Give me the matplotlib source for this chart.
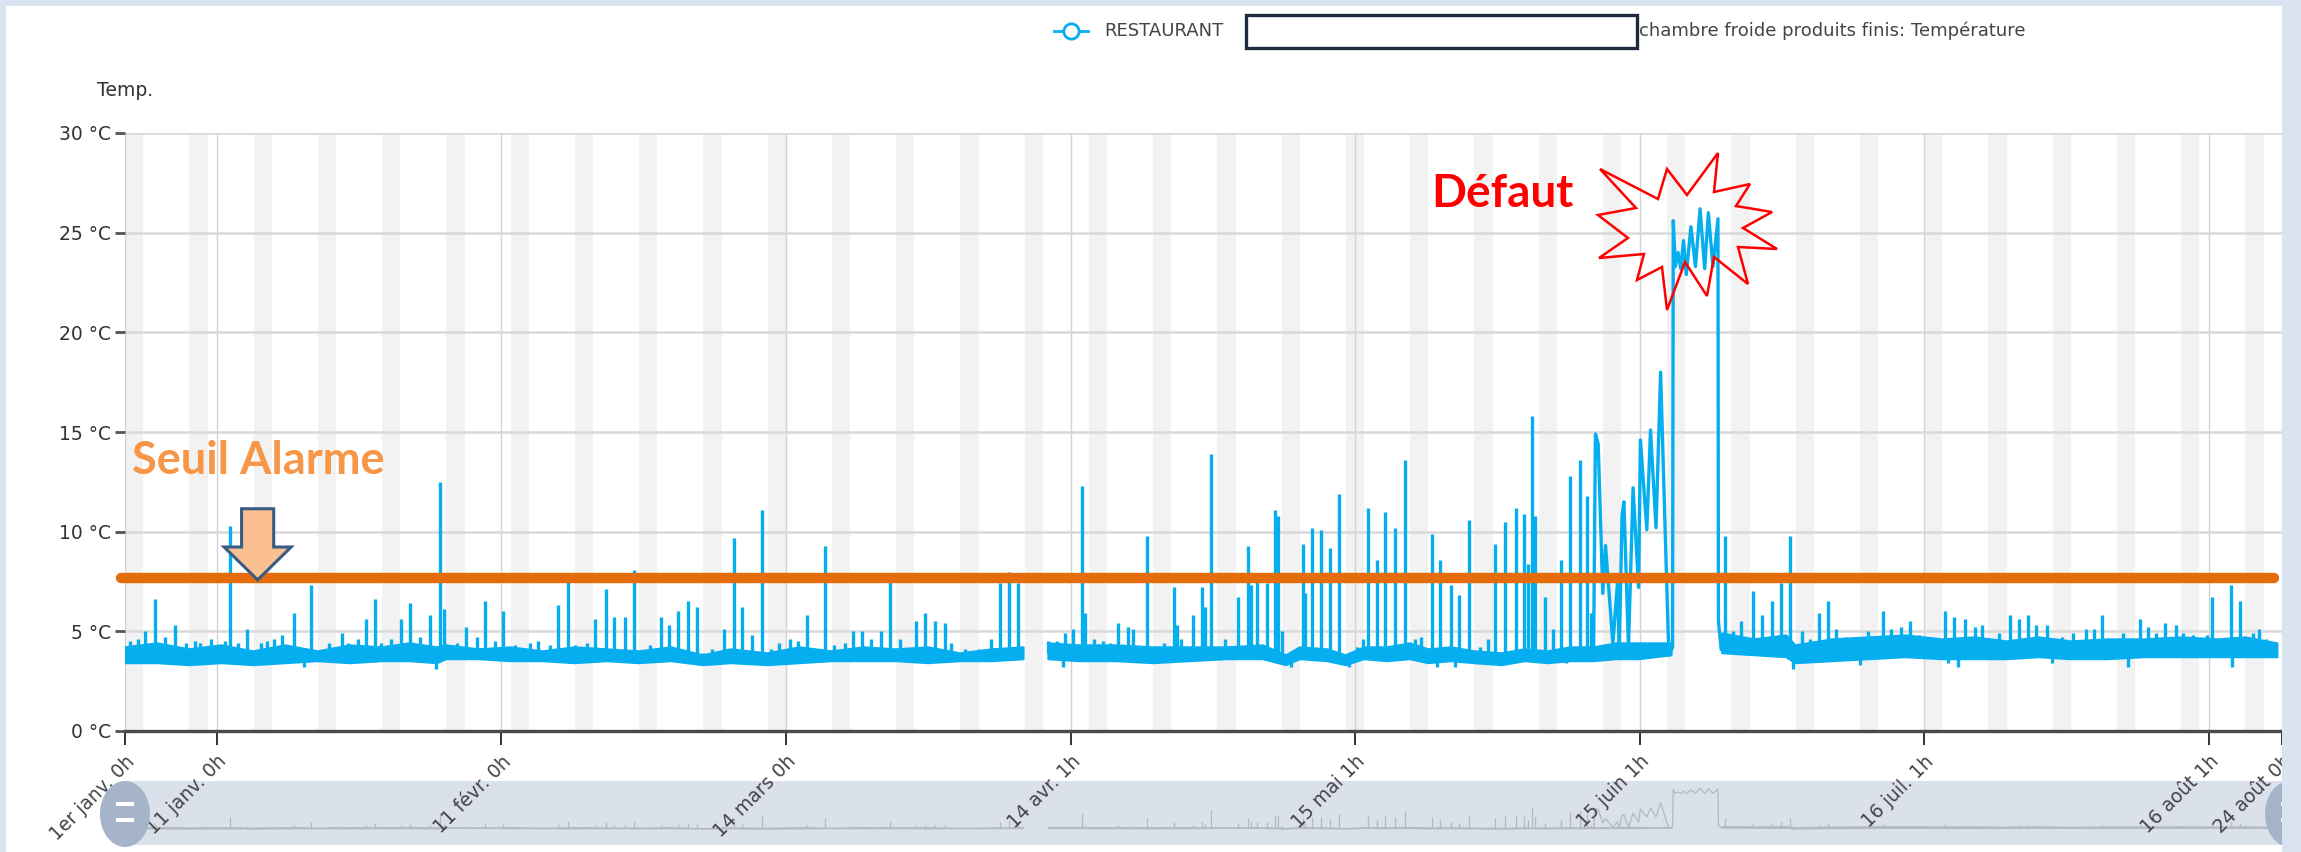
"""
Courbe de température chambre froide, avec seuil d'alarme et défaut
"""

import matplotlib.pyplot as plt
import numpy as np
import pandas as pd
from matplotlib.lines import Line2D
from matplotlib.patches import Ellipse, FancyArrow, Polygon, Rectangle
from matplotlib.transforms import Affine2D

plt.rcParams['font.family'] = ['DejaVu Sans']

W, H = 2301, 852
BLUE = '#05aeef'
START = pd.Timestamp('2022-01-01')
END = pd.Timestamp('2022-08-24')

# x ticks (local time labels as shown by the chart)
tick_times = ['2022-01-01 00:00', '2022-01-11 00:00', '2022-02-11 00:00', '2022-03-14 00:00',
              '2022-04-14 01:00', '2022-05-15 01:00', '2022-06-15 01:00', '2022-07-16 01:00',
              '2022-08-16 01:00', '2022-08-24 00:00']
tick_labels = ['1er janv. 0h', '11 janv. 0h', '11 févr. 0h', '14 mars 0h', '14 avr. 1h',
               '15 mai 1h', '15 juin 1h', '16 juil. 1h', '16 août 1h', '24 août 0h']

# alarm threshold (°C)
SEUIL = 7.7
# foot of the spikes, inside the everyday noise band
SPIKE_FOOT = 3.9

# everyday noise band: day, low edge, high edge (nan = no data / défaut)
nan = np.nan
band_day = [0, 3.5, 7, 10.5, 14, 17.5, 21, 24.5, 28, 31, 34, 35, 38.5, 42, 45.5, 49, 52.5, 56, 59.5,
            63, 66, 70, 73.5, 77, 80.5, 84, 87.5, 91, 94.5, 97.9, 98.0, 100.5, 100.6,
            104, 108, 112, 116, 120, 124, 126.5, 128, 131, 133, 135, 137.5, 140, 142, 144.5, 147,
            150, 152.5, 155, 157.5, 160, 162.5, 165, 168.5, 168.6, 173.8, 174, 177.5, 181, 182,
            186, 190, 194, 198, 201.5, 205, 208.5, 212, 216, 220, 224, 228, 231, 234.5]
band_lo = [3.4, 3.4, 3.3, 3.4, 3.3, 3.4, 3.5, 3.4, 3.5, 3.5, 3.4, 3.6, 3.6, 3.5, 3.5, 3.4, 3.5, 3.4, 3.5,
           3.3, 3.4, 3.3, 3.4, 3.5, 3.5, 3.5, 3.4, 3.5, 3.5, 3.6, nan, nan, 3.6,
           3.5, 3.5, 3.4, 3.5, 3.6, 3.6, 3.3, 3.6, 3.5, 3.3, 3.6, 3.5, 3.6, 3.4, 3.5, 3.4,
           3.3, 3.5, 3.4, 3.5, 3.5, 3.6, 3.6, 3.8, nan, nan, 3.9, 3.8, 3.7, 3.4,
           3.5, 3.6, 3.7, 3.6, 3.6, 3.6, 3.7, 3.6, 3.6, 3.7, 3.7, 3.7, 3.7, 3.7]
band_hi = [4.2, 4.4, 4.1, 4.3, 4.0, 4.3, 4.0, 4.3, 4.2, 4.4, 4.2, 4.3, 4.1, 4.2, 4.0, 4.2, 4.1, 4.0, 4.2,
           3.8, 4.1, 3.9, 4.2, 4.0, 4.2, 4.1, 4.2, 3.9, 4.1, 4.2, nan, nan, 4.4,
           4.3, 4.3, 4.2, 4.2, 4.2, 4.3, 3.8, 4.2, 4.1, 3.8, 4.2, 4.2, 4.4, 4.1, 4.2, 4.0,
           3.9, 4.1, 4.0, 4.2, 4.2, 4.4, 4.4, 4.4, nan, nan, 4.9, 4.6, 4.8, 4.3,
           4.6, 4.7, 4.8, 4.6, 4.7, 4.5, 4.7, 4.5, 4.6, 4.6, 4.7, 4.6, 4.7, 4.4]

# spikes (and dips) out of the band: (day, °C)
spikes_jan = [(0.5, 4.5), (1.4, 4.6), (2.2, 5.0), (3.3, 6.6), (4.4, 4.7), (5.5, 5.3), (6.7, 4.4),
              (7.6, 4.5), (8.2, 4.4), (9.4, 4.6), (10.9, 4.5), (11.4, 10.3), (12.3, 4.4), (13.3, 5.1),
              (14.8, 4.4), (15.5, 4.5), (16.2, 4.6), (17.1, 4.8), (18.4, 5.9), (19.5, 3.2), (20.3, 7.3),
              (22.2, 4.4), (23.6, 4.9), (24.3, 4.4), (25.4, 4.6), (26.3, 5.6), (27.2, 6.6), (27.9, 4.4),
              (29.0, 4.6), (30.1, 5.6)]
spikes_feb = [(31.1, 6.4), (32.1, 4.7), (33.2, 5.8), (33.9, 3.1), (34.3, 12.5), (34.7, 6.1), (36.2, 4.4),
              (37.2, 5.2), (38.3, 4.7), (39.2, 6.5), (40.3, 4.5), (41.2, 6.0), (42.5, 4.3), (44.1, 4.4),
              (45.0, 4.5), (46.3, 4.3), (47.2, 6.3), (48.3, 7.7), (49.0, 4.3), (50.3, 4.4), (51.2, 5.6),
              (52.4, 7.1), (53.3, 5.7), (54.5, 5.7), (55.4, 8.1), (57.2, 4.3), (58.4, 5.7)]
spikes_mar = [(59.3, 5.3), (60.3, 6.0), (61.3, 6.5), (62.3, 6.2), (63.0, 3.3), (63.9, 4.1), (65.3, 5.1),
              (66.4, 9.7), (67.2, 6.2), (68.3, 4.8), (69.4, 11.1), (70.4, 4.1), (71.2, 4.4), (72.4, 4.6),
              (73.3, 4.5), (74.3, 5.8), (75.1, 4.1), (76.3, 9.3), (77.2, 4.3), (78.4, 4.4), (79.3, 5.0),
              (80.3, 5.0), (81.3, 4.6), (82.4, 5.0), (83.3, 7.7), (84.4, 4.6), (86.2, 5.5), (87.2, 5.9),
              (88.2, 5.5), (89.3, 5.4)]
spikes_apr = [(90.0, 4.4), (91.5, 4.1), (93.0, 4.1), (94.4, 4.6), (95.3, 7.4), (96.3, 8.0), (97.3, 7.4),
              (100.6, 4.5), (101.5, 4.5), (102.2, 3.2), (102.4, 4.9), (103.3, 5.1), (104.3, 12.3),
              (104.6, 5.9), (105.6, 4.6), (106.6, 4.5), (107.3, 4.4), (108.2, 5.4), (109.3, 5.2),
              (109.8, 5.1), (111.3, 9.8), (112.0, 4.2), (113.2, 4.4), (114.3, 7.2), (114.6, 5.3),
              (115.1, 4.6), (116.4, 5.8), (117.3, 7.2), (117.7, 6.2), (118.3, 13.9), (119.8, 4.6)]
spikes_may = [(121.3, 6.7), (122.3, 9.3), (122.7, 7.3), (123.3, 7.6), (124.4, 7.4), (125.3, 11.1),
              (125.6, 10.8), (126.0, 5.0), (127.0, 3.2), (128.3, 9.4), (128.6, 6.9), (129.3, 10.2),
              (130.3, 10.1), (131.3, 9.2), (132.3, 11.9), (133.3, 3.2), (134.2, 4.2), (134.9, 4.6),
              (135.4, 11.2), (136.4, 8.6), (137.3, 11.0), (138.4, 10.2), (139.4, 13.6), (140.5, 4.6),
              (141.2, 4.7), (142.4, 9.9), (142.9, 3.2), (143.3, 8.6), (144.5, 7.3), (144.9, 3.2),
              (145.3, 6.8), (146.4, 10.6), (147.6, 4.2), (148.5, 4.6), (149.3, 9.4), (150.3, 10.5)]
spikes_jun = [(151.5, 11.2), (152.4, 10.9), (152.9, 8.4), (153.3, 15.8), (153.6, 10.8), (154.2, 3.6),
              (154.7, 6.7), (155.6, 5.1), (156.5, 8.6), (157.0, 3.4), (157.4, 12.8), (158.5, 13.6),
              (159.3, 11.8), (159.7, 5.9)]
spikes_jul = [(174.3, 9.8), (175.2, 5.0), (176.1, 5.5), (177.4, 7.0), (178.4, 5.8), (179.4, 6.5),
              (180.4, 7.4), (181.4, 9.8), (181.7, 3.1), (182.7, 5.0), (183.6, 4.6), (184.6, 5.9),
              (185.5, 6.5), (186.4, 5.1), (187.5, 4.7), (189.0, 3.3), (189.9, 5.0), (191.5, 6.0),
              (192.4, 5.1), (193.5, 5.2), (194.5, 5.5), (195.5, 4.8), (196.4, 4.6), (198.3, 6.0),
              (198.6, 3.4), (199.3, 5.7), (199.7, 3.2), (200.5, 5.6), (201.5, 5.2), (202.3, 5.3),
              (204.2, 4.9), (205.4, 5.8), (206.4, 5.6), (207.3, 5.8), (208.2, 5.3), (209.4, 5.3),
              (209.9, 3.4), (211.0, 4.7)]
spikes_aug = [(212.2, 4.9), (213.7, 5.1), (214.5, 5.1), (215.4, 5.8), (216.8, 4.6), (217.7, 4.9),
              (218.2, 3.2), (219.5, 5.6), (220.4, 5.2), (221.3, 4.9), (222.2, 5.4), (223.5, 5.3),
              (224.2, 4.9), (225.3, 4.8), (226.8, 4.8), (227.4, 6.7), (229.4, 7.3), (229.6, 3.2),
              (230.4, 6.5), (231.8, 4.9), (232.5, 5.1), (233.3, 4.6)]

# mid-June: unstable period then the défaut itself, read point by point
episode_day = [160.0, 160.2, 160.5, 161.0, 161.3, 162.1, 162.6, 162.8, 163.1, 163.3, 163.8, 164.3,
               164.9, 165.1, 165.8, 166.2, 166.8, 167.3, 167.9, 168.2, 168.6, 168.68, 168.9, 169.2,
               169.5, 169.8, 170.1, 170.6, 171.1, 171.6, 172.1, 172.5, 173.0, 173.55, 173.6, 173.9]
episode_temp = [4.0, 14.9, 14.4, 6.9, 9.3, 4.4, 7.4, 4.0, 10.8, 11.5, 4.2, 12.2,
                7.2, 14.6, 10.1, 15.1, 10.2, 18.0, 8.4, 3.8, 4.2, 25.6, 23.3, 24.0,
                23.2, 24.6, 22.9, 25.3, 23.3, 26.2, 23.2, 26.0, 23.3, 25.7, 5.5, 4.1]

spikes = spikes_jan + spikes_feb + spikes_mar + spikes_apr + spikes_may + spikes_jun + spikes_jul + spikes_aug
spike_day = [d for d, _ in spikes]
spike_temp = [t for _, t in spikes]


def days(ts):
    return (pd.Timestamp(ts) - START) / pd.Timedelta(days=1)


def draw_series(ax, color, lw):
    ax.fill_between(band_day, band_lo, band_hi, color=color, lw=lw * 0.6, edgecolor=color, zorder=3)
    ax.vlines(spike_day, SPIKE_FOOT, spike_temp, color=color, lw=lw, zorder=3)
    ax.plot(episode_day, episode_temp, color=color, lw=lw, zorder=3)


fig = plt.figure(figsize=(W / 100, H / 100), dpi=100)
# helper transform: picture pixels (origin top-left) -> figure
pix = Affine2D().scale(1 / W, -1 / H).translate(0, 1) + fig.transFigure

x_end = days(END)
ax = fig.add_axes([125 / W, 1 - 731 / H, 2157 / W, 598 / H])
ax.set_zorder(3)
ax.set_xlim(0, x_end)
ax.set_ylim(0, 30)

# weekend bands
for sat in pd.date_range(START, END, freq='W-SAT'):
    d = days(sat)
    ax.axvspan(d, min(d + 2, x_end), color='#f2f2f2', lw=0, zorder=0)

ax.set_axisbelow(True)
ax.set_yticks(range(0, 31, 5))
ax.set_yticklabels([f'{v} °C' for v in range(0, 31, 5)])
ax.yaxis.grid(True, color='#d9d9d9', lw=1.8)
ax.set_xticks([days(t) for t in tick_times])
ax.set_xticklabels(tick_labels, rotation=45, ha='right', rotation_mode='anchor')
ax.xaxis.grid(True, color='#d2d2d2', lw=1.0)
ax.tick_params(axis='y', length=7, width=2, color='#555555', pad=3, labelsize=13.5, labelcolor='#333333')
ax.tick_params(axis='x', length=10, width=1.4, color='#333333', pad=5, labelsize=13.5, labelcolor='#444444')
for side in ['top', 'right', 'left']:
    ax.spines[side].set_visible(False)
ax.spines['bottom'].set_color('#4a4a4a')
ax.spines['bottom'].set_linewidth(2.4)

draw_series(ax, BLUE, 2.4)

# annotations laid over the chart
ax.plot([-0.45, 234.1], [SEUIL, SEUIL], color='#e46c0a', lw=7.5, solid_capstyle='round',
        clip_on=False, zorder=6)
ax.add_patch(FancyArrow(14.45, 11.15, 0, -3.57, width=3.5, head_width=7.3, head_length=1.65,
                        length_includes_head=True, fc='#fac08f', ec='#3a5a86', lw=2.2,
                        zorder=7, clip_on=False))
ax.text(0.76, 12.9, 'Seuil Alarme', family='Lato', fontsize=32.5, fontweight='bold',
        color='#f79646', va='baseline', zorder=8)
ax.text(157.8, 26.3, 'Défaut', family='Lato', fontsize=33, fontweight='bold',
        color='#ff0000', ha='right', va='baseline', zorder=8)

star = [(1600, 169), (1658, 199), (1667, 169), (1687, 195), (1718, 153), (1714, 192), (1750, 184),
        (1736, 206), (1772, 212), (1743, 228), (1777, 249), (1738, 247), (1748, 284), (1714, 257),
        (1707, 296), (1685, 262), (1667, 310), (1662, 267), (1637, 280), (1644, 254), (1599, 258),
        (1628, 238), (1598, 215), (1636, 208)]
fig.add_artist(Polygon(star, closed=True, fill=False, ec='#ff0000', lw=1.8, transform=pix, zorder=10))

fig.text(97, 90, 'Temp.', transform=pix, fontsize=13.5, color='#333333', va='center')

# legend
fig.add_artist(Line2D([1054, 1088], [31, 31], color=BLUE, lw=2, transform=pix))
fig.add_artist(Line2D([1071], [31], marker='o', ms=11, mfc='white', mec=BLUE, mew=2, transform=pix))
fig.text(1104, 31, 'RESTAURANT', transform=pix, fontsize=13, color='#444444', va='center')
fig.add_artist(Rectangle((1246, 15), 391, 33, fc='white', ec='#1e2b3c', lw=2.4, transform=pix))
fig.text(1639, 31, 'chambre froide produits finis: Température', transform=pix, fontsize=13,
         color='#444444', va='center')

# navigator
nav = fig.add_axes([125 / W, 1 - 845 / H, 2157 / W, 64 / H])
nav.set_zorder(1)
nav.set_facecolor('#dae1eb')
nav.set_xlim(0, x_end)
nav.set_ylim(-5.5, 30.2)
nav.set_xticks([])
nav.set_yticks([])
for s in nav.spines.values():
    s.set_visible(False)
draw_series(nav, '#b3b9c3', 0.9)

for cx in [125, 2290]:
    fig.add_artist(Ellipse((cx, 814), 50, 66, fc='#a6b4ca', ec='none', transform=pix, zorder=4))
    for by in [802, 818]:
        fig.add_artist(Rectangle((cx - 9, by), 18, 4, fc='white', ec='none', transform=pix, zorder=5))

# page border
for x0, y0, w, h in [(0, 0, W, 6), (0, 0, 6, H), (2282, 0, W - 2282, H)]:
    fig.add_artist(Rectangle((x0, y0), w, h, fc='#dae4f0', ec='none', transform=pix, zorder=20))

fig.savefig('out.png', dpi=100, facecolor='white')
